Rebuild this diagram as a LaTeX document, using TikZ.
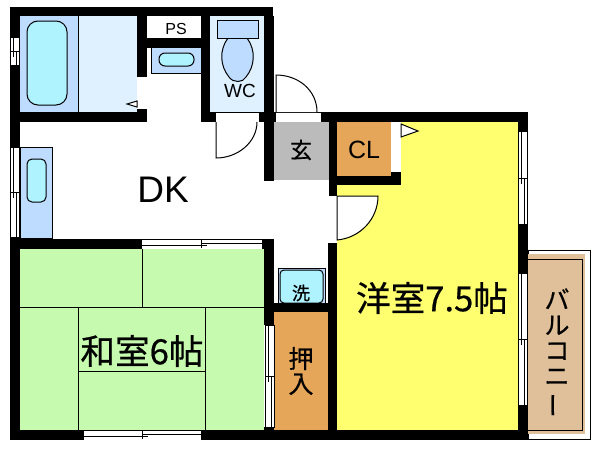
\documentclass[tikz,border=0pt]{standalone}
\usepackage{fontspec}
\setmainfont{Liberation Sans}
\newfontfamily\jpfont[FakeBold=0.6]{Noto Sans CJK JP}
\definecolor{bathpale}{HTML}{DFF1FF}
\definecolor{bathmid}{HTML}{BDDCFF}
\definecolor{tubblue}{HTML}{AEF3FF}
\definecolor{tatami}{HTML}{C6FAAE}
\definecolor{yoshitsu}{HTML}{FFFF70}
\definecolor{storage}{HTML}{E5A65A}
\definecolor{entry}{HTML}{BBBBBB}
\definecolor{balcony}{HTML}{E0C09A}
\tikzset{
  thinline/.style={draw=black,line width=0.5pt},
  wall/.style={fill=black},
  opening/.style={fill=white},
  swing/.style={thinline,fill=white},
  label/.style={inner sep=0pt,text=black},
  bigjp/.style={label,font=\jpfont\fontsize{17.3}{17.3}\selectfont}
}
\newcommand{\winh}[4]{
  \fill[opening] (#1,#3) rectangle (#2,#3+10);
  \draw[thinline] (#1,#3+.5) -- (#2,#3+.5);
  \draw[thinline] (#1,#3+6.5) -- (#4+6,#3+6.5);
  \draw[thinline] (#4,#3+4) -- (#2,#3+4);
  \draw[thinline] (#4,#3+1) -- (#4,#3+9);
  \draw[thinline] (#1,#3) -- (#1,#3+10) (#2,#3) -- (#2,#3+10);
}
\newcommand{\winv}[4]{
  \fill[opening] (#1,#2) rectangle (#1+10,#3);
  \draw[thinline] (#1+.5,#2) -- (#1+.5,#3);
  \draw[thinline] (#1+3.5,#2) -- (#1+3.5,#4+6);
  \draw[thinline] (#1+6.5,#4) -- (#1+6.5,#3);
  \draw[thinline] (#1+9.5,#2) -- (#1+9.5,#3);
  \draw[thinline] (#1+1,#4) -- (#1+9,#4);
  \draw[thinline] (#1,#2) -- (#1+10,#2) (#1,#3) -- (#1+10,#3);
}
\begin{document}
\begin{tikzpicture}[x=0.5pt,y=-0.5pt]
  \useasboundingbox[fill=white] (0,0) rectangle (600,450);

  \fill[bathpale] (78,16) rectangle (137,112);
  \fill[bathmid] (20,16) rectangle (78,112);
  \draw[thinline] (78,16) -- (78,112);
  \draw[thinline,fill=tubblue,rounded corners=5.5pt] (27,21) rectangle (67,105);

  \fill[bathmid] (151,48) rectangle (201,73);
  \draw[thinline] (151,48) -- (151,73) -- (201,73);
  \draw[thinline,fill=tubblue,rounded corners=3pt] (159,53) rectangle (194,66);

  \fill[bathpale] (210,16) rectangle (264,112);
  \draw[thinline,fill=bathmid] (228,38) .. controls (219,50) and (220,66) .. (229,77)
    .. controls (233,83) and (243,83) .. (246,77)
    .. controls (255,66) and (256,50) .. (247,38) -- cycle;
  \draw[thinline,fill=bathmid] (217,20) rectangle (258,38);

  \fill[entry] (274,122) rectangle (329,180);
  \fill[storage] (337,122) rectangle (391,176);
  \fill[storage] (274,312) rectangle (328,430);
  \fill[yoshitsu] (337,176) rectangle (518,430);
  \fill[yoshitsu] (401,122) rectangle (518,180);

  \fill[tatami] (20,249) rectangle (264,430);
  \draw[thinline] (142,249) -- (142,307) (20,307) -- (264,307);
  \draw[thinline] (78,307) -- (78,430) (205,307) -- (205,430);
  \draw[thinline] (78,371) -- (205,371);

  \draw[thinline,fill=bathmid] (20,147) rectangle (52,238);
  \draw[thinline,fill=tubblue,rounded corners=2.5pt] (27,159) rectangle (46,202);

  \draw[thinline,fill=bathmid] (278,268) rectangle (325,303);
  \draw[thinline,fill=tubblue,rounded corners=2pt] (280,270) rectangle (323,303);

  \draw[thinline,fill=white] (528,250) rectangle (590,439);
  \fill[balcony] (528,254) rectangle (585,434);
  \draw[thinline] (528,259) -- (582,259) -- (582,430) -- (528,430);

  \foreach \xa/\ya/\xb/\yb in {
    10/7/273/16, 10/7/20/37, 10/65/20/147, 10/112/147/122, 137/16/147/77,
    137/109/147/122, 137/38/201/48, 201/16/210/122, 201/112/216/122,
    259/112/276/122, 264/16/274/181, 321/112/528/122, 329/122/337/196,
    329/176/401/185, 391/172/401/185, 518/122/528/131, 518/224/528/273,
    518/405/528/440, 10/239/141/249, 262/239/274/249, 10/237/20/440,
    264/239/274/325, 264/427/274/440, 10/430/83/440, 201/430/528/440,
    328/243/337/440, 264/303/337/312} {
    \fill[wall] (\xa,\ya) rectangle (\xb,\yb);
  }

  \fill[opening] (138,77) rectangle (147,109);
  \fill[opening] (216,112) rectangle (259,121);
  \draw[thinline] (216,112.5) -- (259,112.5);
  \fill[opening] (276,112.5) rectangle (321,122);
  \draw[thinline] (276,112.5) -- (321,112.5);
  \fill[opening] (392,122) rectangle (401,172);
  \fill[opening] (329,196) rectangle (337,243);

  \draw[swing] (216,122) -- (216,158) .. controls (238,158) and (257,142) .. (257,122);
  \draw[swing] (276,112) -- (276,75) .. controls (298,75) and (317,90) .. (317,112);
  \draw[swing] (337,196) -- (378,196) .. controls (378,219) and (360,238) .. (337,240) -- cycle;
  \draw[swing] (401,124) -- (418,131) -- (401,137) -- cycle;
  \draw[swing] (137,101) -- (127,104) -- (137,107) -- cycle;

  \winv{10}{37}{65}{51}
  \winv{10}{147}{237}{192}
  \winh{141}{262}{239}{201}
  \winh{83}{201}{430}{142}
  \winv{265}{325}{427}{376}
  \winv{518}{131}{224}{178}
  \winv{518}{273}{405}{339}

  \node[label,font=\fontsize{8}{8}\selectfont] (ps) at (176,29) {PS};
  \node[label,font=\fontsize{9.5}{9.5}\selectfont] (wc) at (240,91) {WC};
  \node[label,font=\fontsize{18.5}{18.5}\selectfont] (dk) at (163,190) {DK};
  \node[label,font=\fontsize{12.5}{12.5}\selectfont] (cl) at (364,150) {CL};
  \node[label,font=\jpfont\fontsize{11}{11}\selectfont] (genkan) at (301,150) {玄};
  \node[label,font=\jpfont\fontsize{9}{9}\selectfont] (sentaku) at (301,293) {洗};
  \node[bigjp] (washitsu) at (142,351) {和室6帖};
  \node[bigjp] (yoshitsulabel) at (432,298) {洋室7.5帖};
  \node[label,font=\jpfont\fontsize{12.5}{12.5}\selectfont,align=center] (oshiire) at (301,371) {押\\入};
  \node[label,font=\jpfont\fontsize{12.5}{12.7}\selectfont,align=center] (balconylabel) at (557,353)
    {バ\\ル\\コ\\ニ\\\rotatebox[origin=c]{90}{ー}};
\end{tikzpicture}
\end{document}
